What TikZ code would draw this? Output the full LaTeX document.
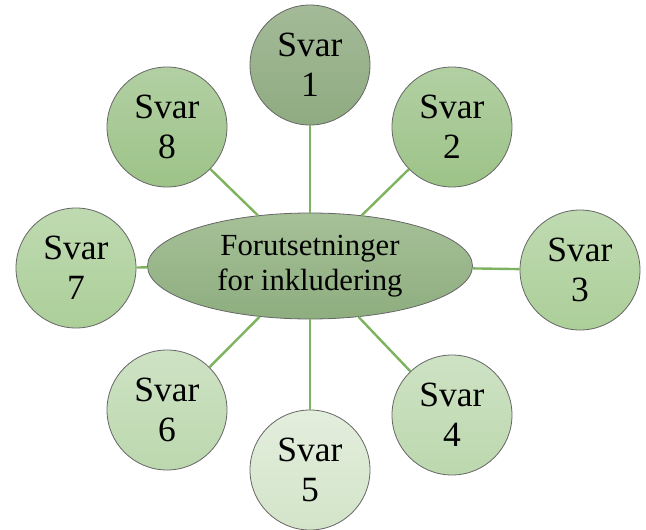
\documentclass[tikz,border=0pt]{standalone}
\usepackage{fontspec}
\setmainfont{Liberation Serif}
\usetikzlibrary{shapes.geometric}
\definecolor{t1}{HTML}{A4BA98}\definecolor{b1}{HTML}{8FAB81}
\definecolor{t2}{HTML}{B2D0A3}\definecolor{b2}{HTML}{9DC388}
\definecolor{t3}{HTML}{BFDAB1}\definecolor{b3}{HTML}{ACCF99}
\definecolor{t4}{HTML}{CEE2C4}\definecolor{b4}{HTML}{BCD8AE}
\definecolor{t5}{HTML}{E3EEDD}\definecolor{b5}{HTML}{D3E4C9}
\definecolor{te}{HTML}{A6C098}\definecolor{be}{HTML}{8EAE7F}
\definecolor{lnk}{HTML}{7DB35F}
\tikzset{
  svar/.style={circle, draw=black!60, line width=0.8pt, minimum size=120pt, inner sep=0pt,
    align=center, font=\fontsize{35.5}{40}\selectfont},
  tone/.style n args={2}{top color=#1, bottom color=#2},
  hub/.style={ellipse, draw=black!60, line width=0.8pt, minimum width=325pt, minimum height=106pt,
    inner sep=0pt, align=center, tone={te}{be}, font=\fontsize{30.7}{35}\selectfont},
  link/.style={draw=lnk, line width=2.4pt}
}
\begin{document}
\begin{tikzpicture}[x=1pt,y=-1pt]
\useasboundingbox (0,0) rectangle (646,530);
\node[hub] (c) at (310,266) {Forutsetninger\\for inkludering};
\node[svar, tone={t1}{b1}] (s1) at (310,65) {Svar\\1};
\node[svar, tone={t2}{b2}] (s2) at (452,127) {Svar\\2};
\node[svar, tone={t3}{b3}] (s3) at (580,270) {Svar\\3};
\node[svar, tone={t4}{b4}] (s4) at (452,415) {Svar\\4};
\node[svar, tone={t5}{b5}] (s5) at (310,470) {Svar\\5};
\node[svar, tone={t4}{b4}] (s6) at (167,410) {Svar\\6};
\node[svar, tone={t3}{b3}] (s7) at (76,268) {Svar\\7};
\node[svar, tone={t2}{b2}] (s8) at (167,127) {Svar\\8};
\foreach \i in {1,...,8} {\draw[link] (c) -- (s\i);}
\end{tikzpicture}
\end{document}
